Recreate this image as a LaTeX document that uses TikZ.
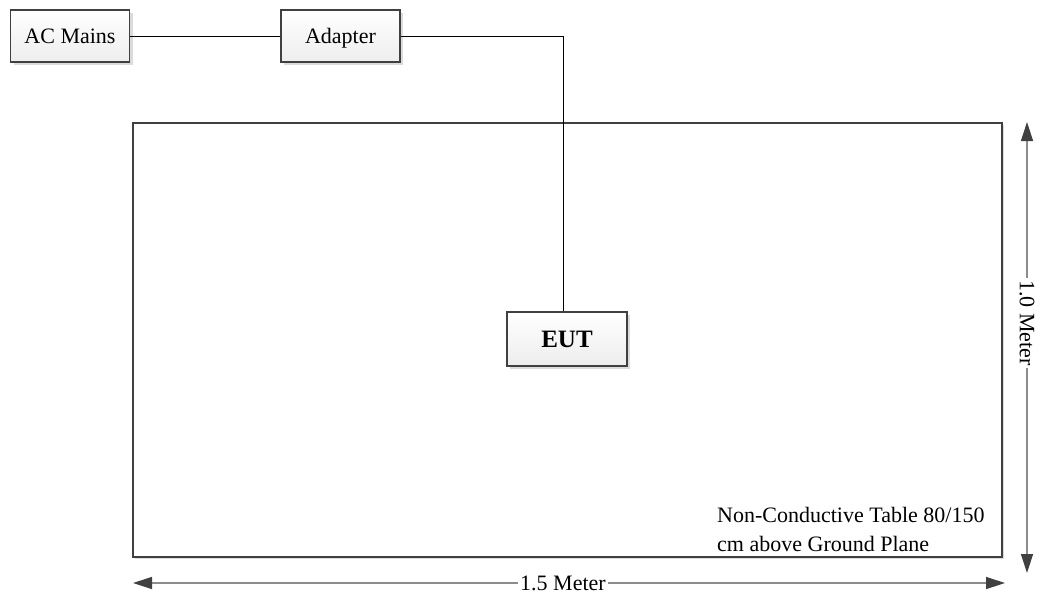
\documentclass[tikz,border=0pt]{standalone}
\usepackage{fontspec}
\setmainfont{Liberation Serif}
\usetikzlibrary{arrows.meta,shadows}
\definecolor{edge}{HTML}{404040}
\definecolor{dimline}{HTML}{8C8C8C}
\tikzset{
  box/.style={draw=edge, line width=1.8pt, top color=white, bottom color=black!7,
    minimum width=119pt, minimum height=52pt, inner sep=0pt,
    text height=15pt, text depth=0pt,
    font=\fontsize{22}{26}\selectfont,
    drop shadow={shadow xshift=3pt, shadow yshift=-3pt, fill=black!14, opacity=1}},
  tablebox/.style={draw=edge, line width=2.6pt, fill=white, inner sep=0pt,
    drop shadow={shadow xshift=2pt, shadow yshift=-2pt, fill=black!14, opacity=1}},
  wire/.style={draw=black, line width=0.9pt},
  dimarrow/.style={draw=dimline, line width=1.3pt,
    {Triangle[length=19pt,width=12pt,color=edge]}-{Triangle[length=19pt,width=12pt,color=edge]}},
  dimlabel/.style={fill=white, inner sep=2pt, font=\fontsize{22}{26}\selectfont}
}
\begin{document}
\begin{tikzpicture}[x=1pt,y=-1pt]
\useasboundingbox (0,0) rectangle (1040,595);
% table
\node[tablebox, minimum width=869pt, minimum height=434pt] (table) at (567.5,340) {};
% boxes
\node[box] (ac) at (70,36) {AC Mains};
\node[box] (adapter) at (340.5,36) {Adapter};
\node[box, minimum width=120pt, minimum height=54pt, text height=17pt, font=\fontsize{25}{30}\selectfont\bfseries] (eut) at (567,339) {EUT};
% wires
\draw[wire] (ac.east) -- (adapter.west);
\draw[wire] (adapter.east) -| ([xshift=-4pt]eut.north);
% table label
\node[anchor=north west, inner sep=0pt, align=left, font=\fontsize{22}{29}\selectfont] (tlabel) at (717,507) {Non-Conductive Table 80/150\\cm above Ground Plane};
% dimensions
\coordinate (vtop) at (1027,122);
\coordinate (vbot) at (1027,573);
\coordinate (hleft) at (133,583);
\coordinate (hright) at (1005,583);
\draw[dimarrow] (vtop) -- (vbot);
\draw[dimarrow] (hleft) -- (hright);
\node[dimlabel, rotate=-90] (vlabel) at (1027,323) {1.0 Meter};
\node[dimlabel] (hlabel) at (563,583) {1.5 Meter};
\end{tikzpicture}
\end{document}
